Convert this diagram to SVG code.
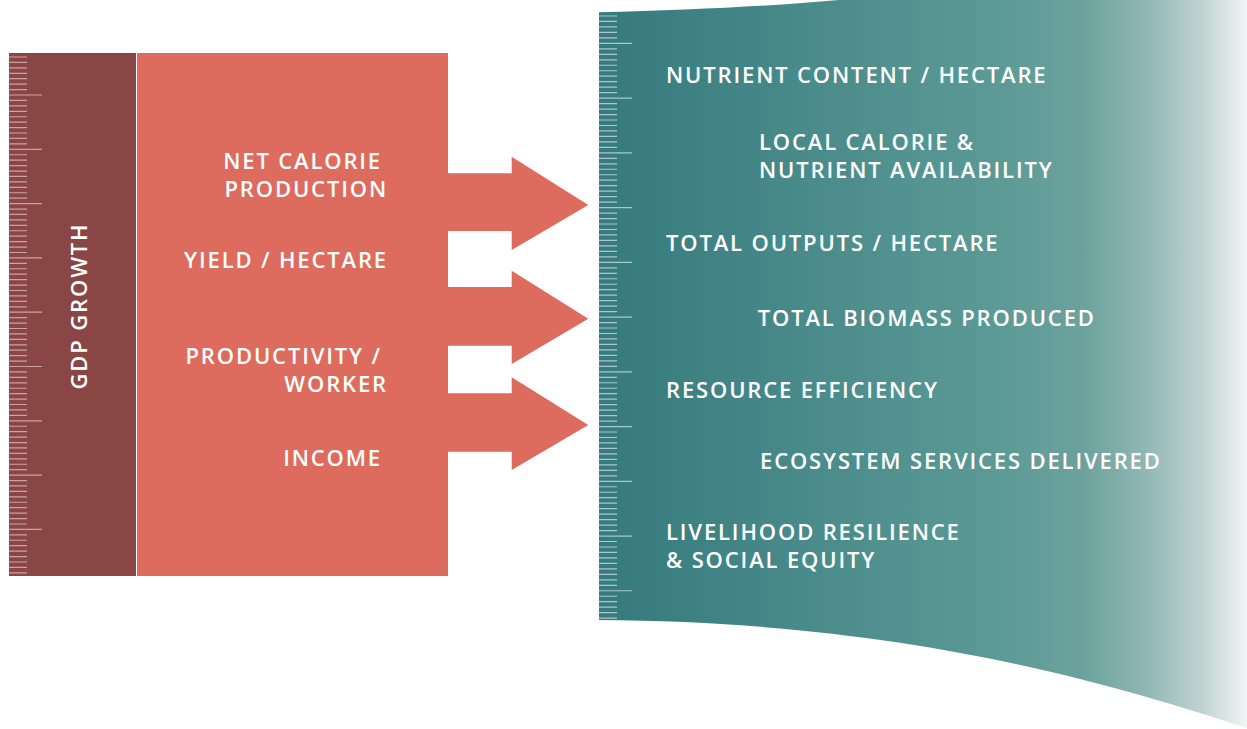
<svg xmlns="http://www.w3.org/2000/svg" width="1247" height="729" viewBox="0 0 1247 729">
<defs>
<linearGradient id="tealGrad" gradientUnits="userSpaceOnUse" x1="599" y1="0" x2="1247" y2="0">
<stop offset="0" stop-color="#367a7e"/>
<stop offset="0.6" stop-color="#5a9995"/>
<stop offset="0.75" stop-color="#6ca29d"/>
<stop offset="0.85" stop-color="#93b9b6"/>
<stop offset="0.93" stop-color="#c0d3d1"/>
<stop offset="1" stop-color="#f0f5f5"/>
</linearGradient>
</defs>
<style>
.lbl{font-family:"Open Sans","Liberation Sans",sans-serif;font-weight:600;font-size:22px;fill:#ffffff;letter-spacing:1.85px}
.end{text-anchor:end}
.tickL{stroke:#c9a3a2;stroke-width:1.2}
.tickR{stroke:#a9c8c9;stroke-width:1.2}
.arrow{fill:#dd6b5e}
</style>
<rect width="1247" height="729" fill="#ffffff"/>

<g id="gdp-growth">
<rect x="9" y="53" width="127" height="523" fill="#8a4645"/>
<path id="ticksLeft" class="tickL" d="M9,57h18M9,62.43h18M9,67.86h18M9,73.29h18M9,78.72h18M9,84.15h18M9,89.58h18M9,95.01h33M9,100.44h18M9,105.87h18M9,111.3h18M9,116.73h18M9,122.16h18M9,127.59h18M9,133.02h18M9,138.45h18M9,143.88h18M9,149.31h33M9,154.74h18M9,160.17h18M9,165.6h18M9,171.03h18M9,176.46h18M9,181.89h18M9,187.32h18M9,192.75h18M9,198.18h18M9,203.61h33M9,209.04h18M9,214.47h18M9,219.9h18M9,225.33h18M9,230.76h18M9,236.19h18M9,241.62h18M9,247.05h18M9,252.48h18M9,257.91h33M9,263.34h18M9,268.77h18M9,274.2h18M9,279.63h18M9,285.06h18M9,290.49h18M9,295.92h18M9,301.35h18M9,306.78h18M9,312.21h33M9,317.64h18M9,323.07h18M9,328.5h18M9,333.93h18M9,339.36h18M9,344.79h18M9,350.22h18M9,355.65h18M9,361.08h18M9,366.51h33M9,371.94h18M9,377.37h18M9,382.8h18M9,388.23h18M9,393.66h18M9,399.09h18M9,404.52h18M9,409.95h18M9,415.38h18M9,420.81h33M9,426.24h18M9,431.67h18M9,437.1h18M9,442.53h18M9,447.96h18M9,453.39h18M9,458.82h18M9,464.25h18M9,469.68h18M9,475.11h33M9,480.54h18M9,485.97h18M9,491.4h18M9,496.83h18M9,502.26h18M9,507.69h18M9,513.12h18M9,518.55h18M9,523.98h18M9,529.41h33M9,534.84h18M9,540.27h18M9,545.7h18M9,551.13h18M9,556.56h18M9,561.99h18M9,567.42h18M9,572.85h18"/>
<text class="lbl" text-anchor="middle" transform="translate(87,306) rotate(-90)">GDP GROWTH</text>
</g>

<g id="measures">
<rect x="137" y="53" width="311" height="523" fill="#dd6b5e"/>
<text class="lbl end" x="382" y="169">NET CALORIE</text>
<text class="lbl end" x="388" y="197">PRODUCTION</text>
<text class="lbl end" x="388" y="268">YIELD / HECTARE</text>
<text class="lbl end" x="382" y="364">PRODUCTIVITY /</text>
<text class="lbl end" x="388" y="392">WORKER</text>
<text class="lbl end" x="382" y="466">INCOME</text>
</g>

<g id="connectors">
<polygon class="arrow" points="447,173.3 511.7,173.3 511.7,156.7 588.3,205 511.7,250 511.7,231 447,231"/>
<polygon class="arrow" points="447,287 511.7,287 511.7,270.7 588.3,318.7 511.7,364 511.7,345.7 447,345.7"/>
<polygon class="arrow" points="447,393.3 511.7,393.3 511.7,377.3 588.3,425 511.7,470 511.7,451.7 447,451.7"/>
</g>

<g id="outcomes">
<path d="M599,12.3 C700,10 790,5 860,-2 L1247,-2 L1247,728 C1100,680 900,622 599,620 Z" fill="url(#tealGrad)"/>
<path id="ticksRight" class="tickR" d="M599,16h18M599,21.47h18M599,26.95h18M599,32.42h18M599,37.9h18M599,43.37h33M599,48.84h18M599,54.32h18M599,59.79h18M599,65.27h18M599,70.74h18M599,76.21h18M599,81.69h18M599,87.16h18M599,92.64h18M599,98.11h33M599,103.58h18M599,109.06h18M599,114.53h18M599,120.01h18M599,125.48h18M599,130.95h18M599,136.43h18M599,141.9h18M599,147.38h18M599,152.85h33M599,158.32h18M599,163.8h18M599,169.27h18M599,174.75h18M599,180.22h18M599,185.69h18M599,191.17h18M599,196.64h18M599,202.12h18M599,207.59h33M599,213.06h18M599,218.54h18M599,224.01h18M599,229.49h18M599,234.96h18M599,240.43h18M599,245.91h18M599,251.38h18M599,256.86h18M599,262.33h33M599,267.8h18M599,273.28h18M599,278.75h18M599,284.23h18M599,289.7h18M599,295.17h18M599,300.65h18M599,306.12h18M599,311.6h18M599,317.07h33M599,322.54h18M599,328.02h18M599,333.49h18M599,338.97h18M599,344.44h18M599,349.91h18M599,355.39h18M599,360.86h18M599,366.34h18M599,371.81h33M599,377.28h18M599,382.76h18M599,388.23h18M599,393.71h18M599,399.18h18M599,404.65h18M599,410.13h18M599,415.6h18M599,421.08h18M599,426.55h33M599,432.02h18M599,437.5h18M599,442.97h18M599,448.45h18M599,453.92h18M599,459.39h18M599,464.87h18M599,470.34h18M599,475.82h18M599,481.29h33M599,486.76h18M599,492.24h18M599,497.71h18M599,503.19h18M599,508.66h18M599,514.13h18M599,519.61h18M599,525.08h18M599,530.56h18M599,536.03h33M599,541.5h18M599,546.98h18M599,552.45h18M599,557.93h18M599,563.4h18M599,568.87h18M599,574.35h18M599,579.82h18M599,585.3h18M599,590.77h33M599,596.24h18M599,601.72h18M599,607.19h18M599,612.67h18M599,618.14h18"/>
<text class="lbl" x="666" y="82.7">NUTRIENT CONTENT / HECTARE</text>
<text class="lbl" x="759" y="150">LOCAL CALORIE &amp;</text>
<text class="lbl" x="759" y="177.7">NUTRIENT AVAILABILITY</text>
<text class="lbl" x="666" y="250.7">TOTAL OUTPUTS / HECTARE</text>
<text class="lbl" x="757.7" y="325.7">TOTAL BIOMASS PRODUCED</text>
<text class="lbl" x="666" y="397.5">RESOURCE EFFICIENCY</text>
<text class="lbl" x="760" y="468.5">ECOSYSTEM SERVICES DELIVERED</text>
<text class="lbl" x="666" y="540">LIVELIHOOD RESILIENCE</text>
<text class="lbl" x="666" y="568.3">&amp; SOCIAL EQUITY</text>
</g>
</svg>
